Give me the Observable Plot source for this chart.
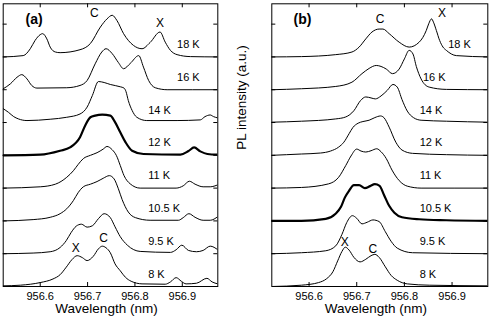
<!DOCTYPE html>
<html><head><meta charset="utf-8">
<script src="https://cdn.jsdelivr.net/npm/d3@7"></script>
<script src="https://cdn.jsdelivr.net/npm/@observablehq/plot@0.6"></script>
<style>
body{margin:0;background:#fff;}
#wrap{position:relative;width:491px;height:322px;}
#wrap svg{position:absolute;top:0;}
</style></head><body><div id="wrap"></div>
<script>
// Temperatures (stack order bottom → top)
const temperatures = ["8 K","9.5 K","10.5 K","11 K","12 K","14 K","16 K","18 K"];
const xTicks = [956.6, 956.7, 956.8, 956.9];
const yTicks = [1,2,3,4,5,6,7,8];

// Panel (a) spectra: [wavelength nm, PL intensity a.u.]
const a8 = [[956.522,0.02],[956.558,0.04],[956.600,0.12],[956.627,0.23],[956.642,0.36],[956.655,0.59],[956.667,0.82],[956.678,0.94],[956.689,0.88],[956.699,0.79],[956.712,0.92],[956.723,1.15],[956.731,1.23],[956.739,1.18],[956.748,1.03],[956.758,0.69],[956.769,0.48],[956.780,0.28],[956.792,0.16],[956.815,0.08],[956.864,0.07],[956.875,0.14],[956.887,0.27],[956.898,0.16],[956.908,0.08],[956.930,0.1],[956.952,0.25],[956.963,0.14],[956.975,0.08]];
const a9_5 = [[956.522,0],[956.585,0.02],[956.621,0.06],[956.642,0.19],[956.655,0.4],[956.665,0.64],[956.676,0.84],[956.687,0.9],[956.699,0.81],[956.710,0.85],[956.723,1.07],[956.735,1.22],[956.748,1.1],[956.758,0.82],[956.769,0.52],[956.784,0.26],[956.811,0.07],[956.875,0.04],[956.887,0.12],[956.899,0.26],[956.913,0.1],[956.930,0.06],[956.944,0.1],[956.959,0.23],[956.975,0.12]];
const a10_5 = [[956.522,0],[956.585,0.04],[956.621,0.11],[956.642,0.22],[956.656,0.37],[956.670,0.62],[956.680,0.86],[956.691,1.04],[956.706,1.12],[956.720,1.2],[956.733,1.3],[956.746,1.38],[956.756,1.28],[956.765,0.98],[956.773,0.65],[956.786,0.27],[956.801,0.1],[956.832,0.02],[956.892,0.02],[956.902,0.1],[956.914,0.22],[956.927,0.11],[956.944,0.02],[956.959,0.02],[956.975,0.13]];
const a11 = [[956.522,0],[956.600,0.04],[956.632,0.12],[956.656,0.33],[956.670,0.53],[956.680,0.72],[956.691,0.9],[956.706,1.0],[956.720,1.08],[956.733,1.19],[956.741,1.27],[956.752,1.17],[956.761,0.99],[956.769,0.69],[956.777,0.38],[956.790,0.13],[956.811,0],[956.887,0],[956.902,0.07],[956.915,0.21],[956.927,0.12],[956.944,0.04],[956.959,0.04],[956.975,0.1]];
const a12 = [[956.522,0],[956.600,0.02],[956.642,0.14],[956.663,0.24],[956.684,0.55],[956.695,0.91],[956.706,1.16],[956.716,1.21],[956.731,1.24],[956.748,1.21],[956.758,1.01],[956.769,0.7],[956.780,0.4],[956.794,0.14],[956.818,0.04],[956.896,0.02],[956.913,0.13],[956.925,0.24],[956.938,0.12],[956.953,0.04],[956.975,0.02]];
const a14 = [[956.522,0.42],[956.533,0.31],[956.544,0.18],[956.554,0.11],[956.572,0.06],[956.621,0.1],[956.656,0.16],[956.684,0.26],[956.699,0.47],[956.710,0.82],[956.723,1.25],[956.735,1.22],[956.748,1.16],[956.769,1.09],[956.777,1.05],[956.781,0.95],[956.786,0.67],[956.794,0.37],[956.804,0.16],[956.825,0.06],[956.889,0.06],[956.938,0.08],[956.948,0.18],[956.959,0.23],[956.966,0.18],[956.975,0.14]];
const a16 = [[956.522,0.03],[956.537,0.18],[956.551,0.38],[956.561,0.46],[956.572,0.33],[956.582,0.13],[956.593,0.05],[956.656,0.06],[956.684,0.13],[956.699,0.28],[956.716,0.79],[956.730,1.15],[956.739,1.25],[956.752,1.1],[956.765,0.83],[956.776,0.64],[956.790,0.8],[956.808,1.04],[956.818,0.69],[956.829,0.28],[956.843,0.06],[956.868,0],[956.974,0]];
const a18 = [[956.522,0],[956.564,0.04],[956.579,0.25],[956.589,0.5],[956.600,0.68],[956.605,0.71],[956.614,0.55],[956.621,0.3],[956.632,0.15],[956.642,0.13],[956.684,0.22],[956.706,0.41],[956.727,0.91],[956.741,1.16],[956.752,1.27],[956.762,1.11],[956.776,0.71],[956.797,0.35],[956.815,0.25],[956.832,0.44],[956.853,0.76],[956.864,0.45],[956.875,0.2],[956.889,0.07],[956.917,0.01],[956.975,0]];

// Panel (b) spectra
const b8 = [[956.522,0],[956.584,0.04],[956.620,0.12],[956.637,0.24],[956.650,0.45],[956.660,0.78],[956.669,1.07],[956.676,1.2],[956.684,1.11],[956.694,0.89],[956.707,0.75],[956.719,0.83],[956.730,0.94],[956.738,0.98],[956.747,0.89],[956.760,0.6],[956.772,0.34],[956.785,0.19],[956.806,0.08],[956.852,0.04],[956.977,0.02]];
const b9_5 = [[956.522,0],[956.584,0.03],[956.635,0.09],[956.656,0.24],[956.669,0.59],[956.679,0.95],[956.691,1.16],[956.700,1.08],[956.711,0.91],[956.722,0.96],[956.734,1.03],[956.747,0.98],[956.760,0.67],[956.772,0.38],[956.785,0.17],[956.817,0.03],[956.977,0]];
const b10_5 = [[956.522,0],[956.584,0],[956.635,0.06],[956.655,0.21],[956.667,0.43],[956.675,0.71],[956.684,0.92],[956.694,1.09],[956.705,1.09],[956.717,1.0],[956.728,1.06],[956.738,1.12],[956.748,1.07],[956.757,0.8],[956.768,0.46],[956.779,0.25],[956.795,0.11],[956.831,0.05],[956.888,0.02],[956.977,0]];
const b11 = [[956.522,0],[956.584,0.02],[956.641,0.13],[956.662,0.33],[956.677,0.69],[956.688,0.98],[956.700,1.19],[956.709,1.13],[956.719,1.1],[956.730,1.14],[956.742,1.2],[956.751,1.11],[956.762,0.9],[956.774,0.55],[956.789,0.23],[956.806,0.06],[956.835,0],[956.977,0]];
const b12 = [[956.522,0],[956.584,0.04],[956.624,0.07],[956.645,0.13],[956.662,0.25],[956.673,0.4],[956.684,0.66],[956.692,0.85],[956.703,0.98],[956.713,1.03],[956.726,1.07],[956.738,1.15],[956.750,1.2],[956.757,1.15],[956.768,0.86],[956.782,0.4],[956.795,0.16],[956.817,0.06],[956.888,0.02],[956.977,0]];
const b14 = [[956.522,0.01],[956.584,0.04],[956.656,0.11],[956.677,0.17],[956.694,0.36],[956.708,0.67],[956.719,0.78],[956.730,0.75],[956.739,0.72],[956.751,0.81],[956.764,0.98],[956.776,1.16],[956.785,1.08],[956.795,0.7],[956.806,0.35],[956.819,0.15],[956.835,0.07],[956.888,0.04],[956.977,0.01]];
const b16 = [[956.522,0],[956.584,0.03],[956.656,0.1],[956.690,0.23],[956.711,0.49],[956.726,0.65],[956.741,0.74],[956.751,0.71],[956.762,0.63],[956.775,0.49],[956.789,0.63],[956.800,0.94],[956.810,1.2],[956.818,1.09],[956.825,0.71],[956.835,0.33],[956.852,0.08],[956.888,0.01],[956.977,0]];
const b18 = [[956.522,0],[956.584,0.01],[956.656,0.07],[956.690,0.15],[956.705,0.3],[956.719,0.55],[956.732,0.76],[956.747,0.85],[956.755,0.85],[956.768,0.71],[956.789,0.45],[956.810,0.3],[956.831,0.45],[956.846,0.81],[956.851,1.01],[956.857,1.16],[956.861,1.06],[956.867,0.81],[956.874,0.5],[956.881,0.3],[956.888,0.2],[956.909,0.04],[956.977,0]];

const spectraA = [a8, a9_5, a10_5, a11, a12, a14, a16, a18];
const spectraB = [b8, b9_5, b10_5, b11, b12, b14, b16, b18];

const FONT = '"Liberation Sans", Arial, Helvetica, sans-serif';
const H = 322, MT = 3.3, MB = 36;
const XDOM = [956.5218, 956.975], YDOM = [0, 8.62];

function panel({spectra, thick, left, right, svgLeft, svgWidth, tag, tagDx, tempX, peaks, ylabel}) {
  const rows = spectra.flatMap((s, i) => s.map(([nm, I]) => ({T: temperatures[i], nm, v: I + i})));
  const fw = right - left, fh = H - MT - MB;
  const marks = [
    Plot.line(rows.filter(d => d.T !== thick), {x: "nm", y: "v", z: "T", curve: "monotone-x", stroke: "#000", strokeWidth: 1, clip: true}),
    Plot.line(rows.filter(d => d.T === thick), {x: "nm", y: "v", z: "T", curve: "monotone-x", stroke: "#000", strokeWidth: 2.2, clip: true}),
    Plot.tickX(xTicks, {x: d => d, insetTop: fh - 4, stroke: "#000"}),
    Plot.tickX(xTicks, {x: d => d, insetBottom: fh - 4, stroke: "#000"}),
    Plot.tickY(yTicks, {y: d => d, insetRight: fw - 4, stroke: "#000"}),
    Plot.tickY(yTicks, {y: d => d, insetLeft: fw - 4, stroke: "#000"}),
    Plot.frame({stroke: "#000", strokeWidth: 1}),
    Plot.axisX({ticks: xTicks, tickSize: 0, tickPadding: 6, tickFormat: d3.format(".1f"), fontSize: 11, label: null}),
    Plot.text(["Wavelength (nm)"], {text: d => d, frameAnchor: "bottom", dx: -4, dy: 22, lineAnchor: "middle", fontSize: 13.5}),
    Plot.text(temperatures, {x: (d, i) => tempX[i], y: (d, i) => i + 0.38, text: d => d, textAnchor: "start", lineAnchor: "middle", fontSize: 11}),
    Plot.text(peaks, {x: "x", y: "y", text: "t", lineAnchor: "middle", fontSize: 12}),
    Plot.text([tag], {text: d => d, frameAnchor: "top-left", dx: tagDx, dy: 15.7, textAnchor: "start", lineAnchor: "middle", fontWeight: "bold", fontSize: 14})
  ];
  if (ylabel) marks.push(Plot.text([ylabel], {text: d => d, frameAnchor: "left", dx: -30.6, dy: 4.6, rotate: -90, lineAnchor: "middle", fontSize: 13.5}));
  const svg = Plot.plot({
    width: svgWidth, height: H,
    marginLeft: left - svgLeft, marginRight: svgLeft + svgWidth - right,
    marginTop: MT, marginBottom: MB,
    style: {fontFamily: FONT, color: "#000", background: "transparent", overflow: "visible"},
    x: {domain: XDOM, axis: null},
    y: {domain: YDOM, axis: null},
    marks
  });
  svg.style.left = svgLeft + "px";
  return svg;
}

const wrap = document.getElementById("wrap");
wrap.append(panel({
  spectra: spectraA, thick: "12 K", left: 2.7, right: 217.3, svgLeft: 0, svgWidth: 226,
  tag: "(a)", tagDx: 22.3,
  tempX: [956.828, 956.828, 956.828, 956.828, 956.828, 956.828, 956.889, 956.889],
  peaks: [{t: "C", x: 956.714, y: 8.34}, {t: "X", x: 956.853, y: 8.03}, {t: "X", x: 956.675, y: 1.16}, {t: "C", x: 956.734, y: 1.46}]
}));
wrap.append(panel({
  spectra: spectraB, thick: "10.5 K", left: 271.3, right: 487.3, svgLeft: 226, svgWidth: 265,
  tag: "(b)", tagDx: 21.7,
  tempX: [956.832, 956.832, 956.832, 956.832, 956.832, 956.832, 956.839, 956.892],
  peaks: [{t: "C", x: 956.749, y: 8.14}, {t: "X", x: 956.879, y: 8.34}, {t: "X", x: 956.675, y: 1.36}, {t: "C", x: 956.734, y: 1.13}],
  ylabel: "PL intensity (a.u.)"
}));
</script></body></html>
